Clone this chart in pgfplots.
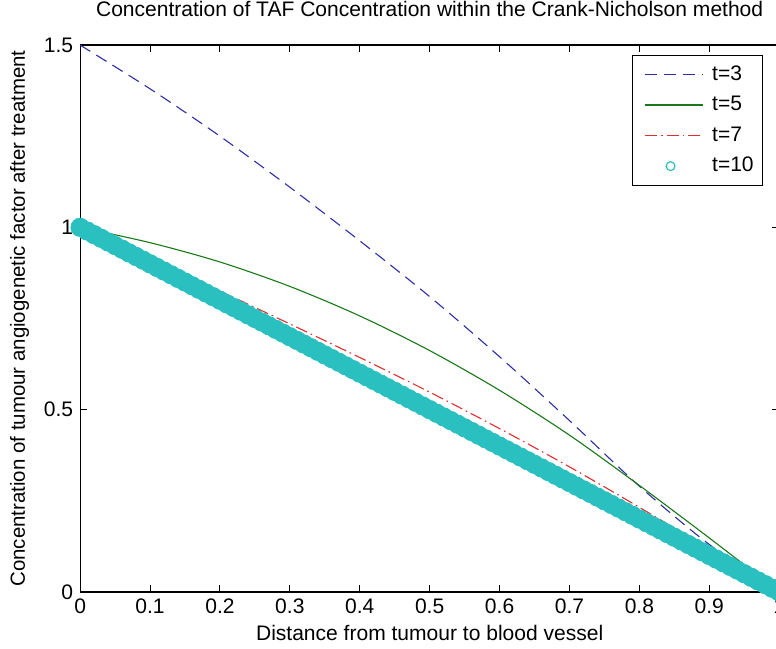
\documentclass[border=0pt]{standalone}
\usepackage{fontspec}
\setmainfont{Liberation Sans}
\usepackage{pgfplots}
\pgfplotsset{compat=1.18}

\definecolor{tblue}{RGB}{45,45,165}
\definecolor{tgreen}{RGB}{25,120,25}
\definecolor{tred}{RGB}{225,45,45}
\definecolor{tcyan}{RGB}{42,192,192}

\begin{document}
\begin{tikzpicture}
\begin{axis}[
  scale only axis,
  width=349pt, height=273pt,
  xmin=0, xmax=1, ymin=0, ymax=1.5,
  xtick={0,0.1,0.2,0.3,0.4,0.5,0.6,0.7,0.8,0.9,1},
  xticklabels={0,0.1,0.2,0.3,0.4,0.5,0.6,0.7,0.8,0.9,1},
  ytick={0,0.5,1,1.5},
  yticklabels={0,0.5,1,1.5},
  /pgf/number format/assume math mode=true,
  font=\fontsize{10.5}{12}\selectfont,
  tick align=inside,
  major tick length=3.5pt,
  tick style={black, line width=0.5pt},
  axis line style={black, line width=0.6pt},
  clip=false,
  title={Concentration of TAF Concentration within the Crank-Nicholson method},
  title style={at={(0.5,1)}, anchor=base, yshift=8.5pt},
  xlabel={Distance from tumour to blood vessel},
  ylabel={Concentration of tumour angiogenetic factor after treatment},
  xlabel style={yshift=1pt},
  ylabel style={yshift=0.5pt, font=\fontsize{10.2}{12}\selectfont},
  legend cell align=left,
  legend image code/.code={\path (-3.5pt,0pt); \draw[#1] (0cm,0cm) -- (1.02cm,0cm); \path (1.1cm,0pt);},
  legend style={at={(1,1)}, anchor=north east, xshift=-8pt, yshift=-5pt,
    draw=black, line width=0.5pt, inner xsep=2.5pt, inner ysep=3pt, row sep=2.5pt,
    font=\fontsize{10.5}{12}\selectfont},
]
% t=3
\addplot[tblue, line width=0.55pt, dash pattern=on 6pt off 3.5pt, smooth] coordinates {
  (0,1.5) (0.1,1.38) (0.2,1.25) (0.3,1.11) (0.4,0.963) (0.5,0.81)
  (0.6,0.645) (0.7,0.47) (0.8,0.29) (0.9,0.13) (1,0)
};
\addlegendentry{t=3}
% t=5
\addplot[tgreen, line width=0.55pt, smooth] coordinates {
  (0,1.0) (0.1,0.958) (0.2,0.905) (0.3,0.838) (0.4,0.757) (0.5,0.662)
  (0.6,0.553) (0.7,0.43) (0.8,0.292) (0.9,0.148) (1,0)
};
\addlegendentry{t=5}
% t=7
\addplot[tred, line width=0.55pt, dash pattern=on 6pt off 2pt on 0.8pt off 2pt, smooth] coordinates {
  (0,1.0) (0.1,0.91) (0.2,0.825) (0.3,0.735) (0.4,0.643) (0.5,0.548)
  (0.6,0.448) (0.7,0.343) (0.8,0.232) (0.9,0.117) (1,0)
};
\addlegendentry{t=7}
% t=10
\addplot[only marks, mark=*, mark size=4.6pt, mark options={draw=tcyan, fill=tcyan},
  legend image code/.code={\path (-3.5pt,0pt); \path (1.1cm,0pt); \draw[tcyan, line width=0.6pt] (0.45cm,0cm) circle (2.2pt);}]
  coordinates {
  (0,1) (0.01,0.99) (0.02,0.98) (0.03,0.97) (0.04,0.96) (0.05,0.95) (0.06,0.94) (0.07,0.93) (0.08,0.92) (0.09,0.91)
  (0.1,0.9) (0.11,0.89) (0.12,0.88) (0.13,0.87) (0.14,0.86) (0.15,0.85) (0.16,0.84) (0.17,0.83) (0.18,0.82) (0.19,0.81)
  (0.2,0.8) (0.21,0.79) (0.22,0.78) (0.23,0.77) (0.24,0.76) (0.25,0.75) (0.26,0.74) (0.27,0.73) (0.28,0.72) (0.29,0.71)
  (0.3,0.7) (0.31,0.69) (0.32,0.68) (0.33,0.67) (0.34,0.66) (0.35,0.65) (0.36,0.64) (0.37,0.63) (0.38,0.62) (0.39,0.61)
  (0.4,0.6) (0.41,0.59) (0.42,0.58) (0.43,0.57) (0.44,0.56) (0.45,0.55) (0.46,0.54) (0.47,0.53) (0.48,0.52) (0.49,0.51)
  (0.5,0.5) (0.51,0.49) (0.52,0.48) (0.53,0.47) (0.54,0.46) (0.55,0.45) (0.56,0.44) (0.57,0.43) (0.58,0.42) (0.59,0.41)
  (0.6,0.4) (0.61,0.39) (0.62,0.38) (0.63,0.37) (0.64,0.36) (0.65,0.35) (0.66,0.34) (0.67,0.33) (0.68,0.32) (0.69,0.31)
  (0.7,0.3) (0.71,0.29) (0.72,0.28) (0.73,0.27) (0.74,0.26) (0.75,0.25) (0.76,0.24) (0.77,0.23) (0.78,0.22) (0.79,0.21)
  (0.8,0.2) (0.81,0.19) (0.82,0.18) (0.83,0.17) (0.84,0.16) (0.85,0.15) (0.86,0.14) (0.87,0.13) (0.88,0.12) (0.89,0.11)
  (0.9,0.1) (0.91,0.09) (0.92,0.08) (0.93,0.07) (0.94,0.06) (0.95,0.05) (0.96,0.04) (0.97,0.03) (0.98,0.02) (0.99,0.01)
  (1,0)
};
\addlegendentry{t=10}
\end{axis}
\pgfresetboundingbox
\path[use as bounding box] ([xshift=-40pt,yshift=-28pt]current axis.south west)
  rectangle ([xshift=-1.6pt,yshift=22.5pt]current axis.north east);
\end{tikzpicture}
\end{document}
